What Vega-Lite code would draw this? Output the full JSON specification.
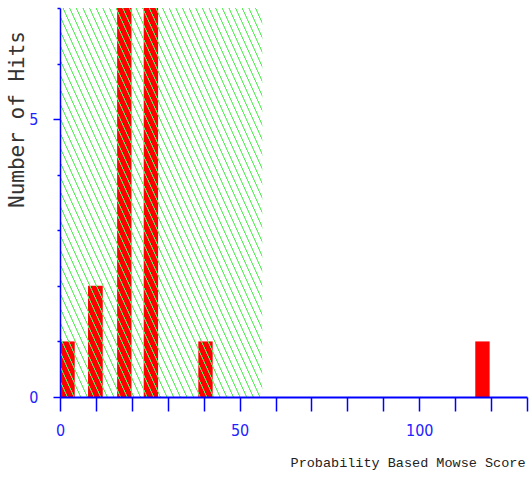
{
  "$schema": "https://vega.github.io/schema/vega-lite/v6.json",
  "width": 467,
  "height": 389,
  "autosize": {"type": "none"},
  "padding": {"left": 60, "top": 8, "right": 3, "bottom": 80},
  "background": "white",
  "config": {"view": {"stroke": null}},
  "encoding": {
    "x": {
      "field": "score_from", "type": "quantitative",
      "scale": {"domain": [0, 130], "nice": false, "zero": false},
      "title": "Probability Based Mowse Score",
      "axis": {
        "values": [0, 10, 20, 30, 40, 50, 60, 70, 80, 90, 100, 110, 120, 130],
        "labelExpr": "datum.value % 50 === 0 ? datum.label : ''",
        "grid": false,
        "domainColor": "#0000ff", "domainWidth": 2,
        "tickColor": "#0000ff", "tickWidth": 1.5, "tickSize": 14,
        "labelColor": "#2222ff", "labelFont": "DejaVu Sans Condensed, Liberation Sans Narrow, DejaVu Sans",
        "labelFontSize": 16, "labelPadding": 11, "labelFlush": false, "labelOverlap": false,
        "titleFont": "Liberation Mono, DejaVu Sans Mono", "titleFontSize": 13.5, "titleFontWeight": "normal",
        "titleColor": "#222222", "titleAnchor": "end", "titleAlign": "right", "titleX": 465, "titleY": 69,
        "titleBaseline": "alphabetic",
        "zindex": 1
      }
    },
    "x2": {"field": "score_to"},
    "y": {
      "field": "hits", "type": "quantitative",
      "scale": {"domain": [0, 7], "nice": false},
      "title": "Number of Hits",
      "axis": {
        "values": [0, 1, 2, 3, 4, 5, 6, 7],
        "format": "d",
        "labelExpr": "datum.value % 5 === 0 ? datum.label : ''",
        "grid": false,
        "domainColor": "#0000ff", "domainWidth": 1.5,
        "tickColor": "#0000ff", "tickWidth": 1.5,
        "tickSize": {"condition": {"test": "datum.value % 5 === 0", "value": 7}, "value": 3},
        "labelColor": "#2222ff", "labelFont": "DejaVu Sans Condensed, Liberation Sans Narrow, DejaVu Sans",
        "labelFontSize": 16, "labelPadding": 15, "labelOverlap": false, "labelFlush": false,
        "titleFont": "DejaVu Sans Mono", "titleFontSize": 21, "titleFontWeight": "normal",
        "titleColor": "#333333", "titleAngle": -90, "titleAlign": "center", "titleBaseline": "alphabetic",
        "titleX": -37, "titleY": 111,
        "zindex": 1
      }
    },
    "y2": {"datum": 0}
  },
  "layer": [
    {
      "data": {"values": [
        {"score_from": 0.2, "score_to": 4.1, "hits": 1},
        {"score_from": 7.8, "score_to": 11.9, "hits": 2},
        {"score_from": 15.9, "score_to": 19.9, "hits": 7},
        {"score_from": 23.3, "score_to": 27.3, "hits": 7},
        {"score_from": 38.5, "score_to": 42.5, "hits": 1},
        {"score_from": 115.6, "score_to": 119.6, "hits": 1}
      ]},
      "mark": {"type": "rect", "color": "#ff0000"}
    },
    {
      "data": {"values": [{"score_from": 0, "score_to": 56.3, "hits": 7}]},
      "mark": {
        "type": "rect",
        "fill": {
          "gradient": "linear", "x1": 0, "y1": 1, "x2": 1.0618, "y2": 0.0706,
          "stops": [
            {"offset": 0, "color": "rgba(92,240,92,0)"}, {"offset": 0.0012, "color": "#5cf05c"}, {"offset": 0.003, "color": "#5cf05c"}, {"offset": 0.0042, "color": "rgba(92,240,92,0)"},
            {"offset": 0.0175, "color": "rgba(92,240,92,0)"}, {"offset": 0.0187, "color": "#5cf05c"}, {"offset": 0.0205, "color": "#5cf05c"}, {"offset": 0.0217, "color": "rgba(92,240,92,0)"},
            {"offset": 0.035, "color": "rgba(92,240,92,0)"}, {"offset": 0.0362, "color": "#5cf05c"}, {"offset": 0.038, "color": "#5cf05c"}, {"offset": 0.0392, "color": "rgba(92,240,92,0)"},
            {"offset": 0.0525, "color": "rgba(92,240,92,0)"}, {"offset": 0.0537, "color": "#5cf05c"}, {"offset": 0.0555, "color": "#5cf05c"}, {"offset": 0.0567, "color": "rgba(92,240,92,0)"},
            {"offset": 0.07, "color": "rgba(92,240,92,0)"}, {"offset": 0.0712, "color": "#5cf05c"}, {"offset": 0.073, "color": "#5cf05c"}, {"offset": 0.0742, "color": "rgba(92,240,92,0)"},
            {"offset": 0.0875, "color": "rgba(92,240,92,0)"}, {"offset": 0.0887, "color": "#5cf05c"}, {"offset": 0.0905, "color": "#5cf05c"}, {"offset": 0.0917, "color": "rgba(92,240,92,0)"},
            {"offset": 0.105, "color": "rgba(92,240,92,0)"}, {"offset": 0.1062, "color": "#5cf05c"}, {"offset": 0.108, "color": "#5cf05c"}, {"offset": 0.1092, "color": "rgba(92,240,92,0)"},
            {"offset": 0.1225, "color": "rgba(92,240,92,0)"}, {"offset": 0.1237, "color": "#5cf05c"}, {"offset": 0.1255, "color": "#5cf05c"}, {"offset": 0.1267, "color": "rgba(92,240,92,0)"},
            {"offset": 0.14, "color": "rgba(92,240,92,0)"}, {"offset": 0.1412, "color": "#5cf05c"}, {"offset": 0.143, "color": "#5cf05c"}, {"offset": 0.1442, "color": "rgba(92,240,92,0)"},
            {"offset": 0.1575, "color": "rgba(92,240,92,0)"}, {"offset": 0.1587, "color": "#5cf05c"}, {"offset": 0.1605, "color": "#5cf05c"}, {"offset": 0.1617, "color": "rgba(92,240,92,0)"},
            {"offset": 0.175, "color": "rgba(92,240,92,0)"}, {"offset": 0.1762, "color": "#5cf05c"}, {"offset": 0.178, "color": "#5cf05c"}, {"offset": 0.1792, "color": "rgba(92,240,92,0)"},
            {"offset": 0.1925, "color": "rgba(92,240,92,0)"}, {"offset": 0.1937, "color": "#5cf05c"}, {"offset": 0.1955, "color": "#5cf05c"}, {"offset": 0.1967, "color": "rgba(92,240,92,0)"},
            {"offset": 0.21, "color": "rgba(92,240,92,0)"}, {"offset": 0.2112, "color": "#5cf05c"}, {"offset": 0.213, "color": "#5cf05c"}, {"offset": 0.2142, "color": "rgba(92,240,92,0)"},
            {"offset": 0.2275, "color": "rgba(92,240,92,0)"}, {"offset": 0.2287, "color": "#5cf05c"}, {"offset": 0.2305, "color": "#5cf05c"}, {"offset": 0.2317, "color": "rgba(92,240,92,0)"},
            {"offset": 0.245, "color": "rgba(92,240,92,0)"}, {"offset": 0.2462, "color": "#5cf05c"}, {"offset": 0.248, "color": "#5cf05c"}, {"offset": 0.2492, "color": "rgba(92,240,92,0)"},
            {"offset": 0.2625, "color": "rgba(92,240,92,0)"}, {"offset": 0.2637, "color": "#5cf05c"}, {"offset": 0.2655, "color": "#5cf05c"}, {"offset": 0.2667, "color": "rgba(92,240,92,0)"},
            {"offset": 0.28, "color": "rgba(92,240,92,0)"}, {"offset": 0.2812, "color": "#5cf05c"}, {"offset": 0.283, "color": "#5cf05c"}, {"offset": 0.2842, "color": "rgba(92,240,92,0)"},
            {"offset": 0.2975, "color": "rgba(92,240,92,0)"}, {"offset": 0.2987, "color": "#5cf05c"}, {"offset": 0.3005, "color": "#5cf05c"}, {"offset": 0.3017, "color": "rgba(92,240,92,0)"},
            {"offset": 0.315, "color": "rgba(92,240,92,0)"}, {"offset": 0.3162, "color": "#5cf05c"}, {"offset": 0.318, "color": "#5cf05c"}, {"offset": 0.3192, "color": "rgba(92,240,92,0)"},
            {"offset": 0.3325, "color": "rgba(92,240,92,0)"}, {"offset": 0.3337, "color": "#5cf05c"}, {"offset": 0.3355, "color": "#5cf05c"}, {"offset": 0.3367, "color": "rgba(92,240,92,0)"},
            {"offset": 0.35, "color": "rgba(92,240,92,0)"}, {"offset": 0.3512, "color": "#5cf05c"}, {"offset": 0.353, "color": "#5cf05c"}, {"offset": 0.3542, "color": "rgba(92,240,92,0)"},
            {"offset": 0.3675, "color": "rgba(92,240,92,0)"}, {"offset": 0.3687, "color": "#5cf05c"}, {"offset": 0.3705, "color": "#5cf05c"}, {"offset": 0.3717, "color": "rgba(92,240,92,0)"},
            {"offset": 0.385, "color": "rgba(92,240,92,0)"}, {"offset": 0.3862, "color": "#5cf05c"}, {"offset": 0.388, "color": "#5cf05c"}, {"offset": 0.3892, "color": "rgba(92,240,92,0)"},
            {"offset": 0.4025, "color": "rgba(92,240,92,0)"}, {"offset": 0.4037, "color": "#5cf05c"}, {"offset": 0.4055, "color": "#5cf05c"}, {"offset": 0.4067, "color": "rgba(92,240,92,0)"},
            {"offset": 0.42, "color": "rgba(92,240,92,0)"}, {"offset": 0.4212, "color": "#5cf05c"}, {"offset": 0.423, "color": "#5cf05c"}, {"offset": 0.4242, "color": "rgba(92,240,92,0)"},
            {"offset": 0.4375, "color": "rgba(92,240,92,0)"}, {"offset": 0.4387, "color": "#5cf05c"}, {"offset": 0.4405, "color": "#5cf05c"}, {"offset": 0.4417, "color": "rgba(92,240,92,0)"},
            {"offset": 0.455, "color": "rgba(92,240,92,0)"}, {"offset": 0.4562, "color": "#5cf05c"}, {"offset": 0.458, "color": "#5cf05c"}, {"offset": 0.4592, "color": "rgba(92,240,92,0)"},
            {"offset": 0.4725, "color": "rgba(92,240,92,0)"}, {"offset": 0.4737, "color": "#5cf05c"}, {"offset": 0.4755, "color": "#5cf05c"}, {"offset": 0.4767, "color": "rgba(92,240,92,0)"},
            {"offset": 0.49, "color": "rgba(92,240,92,0)"}, {"offset": 0.4912, "color": "#5cf05c"}, {"offset": 0.493, "color": "#5cf05c"}, {"offset": 0.4942, "color": "rgba(92,240,92,0)"},
            {"offset": 0.5075, "color": "rgba(92,240,92,0)"}, {"offset": 0.5087, "color": "#5cf05c"}, {"offset": 0.5105, "color": "#5cf05c"}, {"offset": 0.5117, "color": "rgba(92,240,92,0)"},
            {"offset": 0.525, "color": "rgba(92,240,92,0)"}, {"offset": 0.5262, "color": "#5cf05c"}, {"offset": 0.528, "color": "#5cf05c"}, {"offset": 0.5292, "color": "rgba(92,240,92,0)"},
            {"offset": 0.5425, "color": "rgba(92,240,92,0)"}, {"offset": 0.5437, "color": "#5cf05c"}, {"offset": 0.5455, "color": "#5cf05c"}, {"offset": 0.5467, "color": "rgba(92,240,92,0)"},
            {"offset": 0.56, "color": "rgba(92,240,92,0)"}, {"offset": 0.5612, "color": "#5cf05c"}, {"offset": 0.563, "color": "#5cf05c"}, {"offset": 0.5642, "color": "rgba(92,240,92,0)"},
            {"offset": 0.5775, "color": "rgba(92,240,92,0)"}, {"offset": 0.5787, "color": "#5cf05c"}, {"offset": 0.5805, "color": "#5cf05c"}, {"offset": 0.5817, "color": "rgba(92,240,92,0)"},
            {"offset": 0.595, "color": "rgba(92,240,92,0)"}, {"offset": 0.5962, "color": "#5cf05c"}, {"offset": 0.598, "color": "#5cf05c"}, {"offset": 0.5992, "color": "rgba(92,240,92,0)"},
            {"offset": 0.6125, "color": "rgba(92,240,92,0)"}, {"offset": 0.6137, "color": "#5cf05c"}, {"offset": 0.6155, "color": "#5cf05c"}, {"offset": 0.6167, "color": "rgba(92,240,92,0)"},
            {"offset": 0.63, "color": "rgba(92,240,92,0)"}, {"offset": 0.6312, "color": "#5cf05c"}, {"offset": 0.633, "color": "#5cf05c"}, {"offset": 0.6342, "color": "rgba(92,240,92,0)"},
            {"offset": 0.6475, "color": "rgba(92,240,92,0)"}, {"offset": 0.6487, "color": "#5cf05c"}, {"offset": 0.6505, "color": "#5cf05c"}, {"offset": 0.6517, "color": "rgba(92,240,92,0)"},
            {"offset": 0.665, "color": "rgba(92,240,92,0)"}, {"offset": 0.6662, "color": "#5cf05c"}, {"offset": 0.668, "color": "#5cf05c"}, {"offset": 0.6692, "color": "rgba(92,240,92,0)"},
            {"offset": 0.6825, "color": "rgba(92,240,92,0)"}, {"offset": 0.6837, "color": "#5cf05c"}, {"offset": 0.6855, "color": "#5cf05c"}, {"offset": 0.6867, "color": "rgba(92,240,92,0)"},
            {"offset": 0.7, "color": "rgba(92,240,92,0)"}, {"offset": 0.7012, "color": "#5cf05c"}, {"offset": 0.703, "color": "#5cf05c"}, {"offset": 0.7042, "color": "rgba(92,240,92,0)"},
            {"offset": 0.7175, "color": "rgba(92,240,92,0)"}, {"offset": 0.7187, "color": "#5cf05c"}, {"offset": 0.7205, "color": "#5cf05c"}, {"offset": 0.7217, "color": "rgba(92,240,92,0)"},
            {"offset": 0.735, "color": "rgba(92,240,92,0)"}, {"offset": 0.7362, "color": "#5cf05c"}, {"offset": 0.738, "color": "#5cf05c"}, {"offset": 0.7392, "color": "rgba(92,240,92,0)"},
            {"offset": 0.7525, "color": "rgba(92,240,92,0)"}, {"offset": 0.7537, "color": "#5cf05c"}, {"offset": 0.7555, "color": "#5cf05c"}, {"offset": 0.7567, "color": "rgba(92,240,92,0)"},
            {"offset": 0.77, "color": "rgba(92,240,92,0)"}, {"offset": 0.7712, "color": "#5cf05c"}, {"offset": 0.773, "color": "#5cf05c"}, {"offset": 0.7742, "color": "rgba(92,240,92,0)"},
            {"offset": 0.7875, "color": "rgba(92,240,92,0)"}, {"offset": 0.7887, "color": "#5cf05c"}, {"offset": 0.7905, "color": "#5cf05c"}, {"offset": 0.7917, "color": "rgba(92,240,92,0)"},
            {"offset": 0.805, "color": "rgba(92,240,92,0)"}, {"offset": 0.8062, "color": "#5cf05c"}, {"offset": 0.808, "color": "#5cf05c"}, {"offset": 0.8092, "color": "rgba(92,240,92,0)"},
            {"offset": 0.8225, "color": "rgba(92,240,92,0)"}, {"offset": 0.8237, "color": "#5cf05c"}, {"offset": 0.8255, "color": "#5cf05c"}, {"offset": 0.8267, "color": "rgba(92,240,92,0)"},
            {"offset": 0.84, "color": "rgba(92,240,92,0)"}, {"offset": 0.8412, "color": "#5cf05c"}, {"offset": 0.843, "color": "#5cf05c"}, {"offset": 0.8442, "color": "rgba(92,240,92,0)"},
            {"offset": 0.8575, "color": "rgba(92,240,92,0)"}, {"offset": 0.8587, "color": "#5cf05c"}, {"offset": 0.8605, "color": "#5cf05c"}, {"offset": 0.8617, "color": "rgba(92,240,92,0)"},
            {"offset": 0.875, "color": "rgba(92,240,92,0)"}, {"offset": 0.8762, "color": "#5cf05c"}, {"offset": 0.878, "color": "#5cf05c"}, {"offset": 0.8792, "color": "rgba(92,240,92,0)"},
            {"offset": 0.8925, "color": "rgba(92,240,92,0)"}, {"offset": 0.8937, "color": "#5cf05c"}, {"offset": 0.8955, "color": "#5cf05c"}, {"offset": 0.8967, "color": "rgba(92,240,92,0)"},
            {"offset": 0.91, "color": "rgba(92,240,92,0)"}, {"offset": 0.9112, "color": "#5cf05c"}, {"offset": 0.913, "color": "#5cf05c"}, {"offset": 0.9142, "color": "rgba(92,240,92,0)"},
            {"offset": 0.9275, "color": "rgba(92,240,92,0)"}, {"offset": 0.9287, "color": "#5cf05c"}, {"offset": 0.9305, "color": "#5cf05c"}, {"offset": 0.9317, "color": "rgba(92,240,92,0)"},
            {"offset": 0.945, "color": "rgba(92,240,92,0)"}, {"offset": 0.9462, "color": "#5cf05c"}, {"offset": 0.948, "color": "#5cf05c"}, {"offset": 0.9492, "color": "rgba(92,240,92,0)"},
            {"offset": 0.9625, "color": "rgba(92,240,92,0)"}, {"offset": 0.9637, "color": "#5cf05c"}, {"offset": 0.9655, "color": "#5cf05c"}, {"offset": 0.9667, "color": "rgba(92,240,92,0)"},
            {"offset": 0.98, "color": "rgba(92,240,92,0)"}, {"offset": 0.9812, "color": "#5cf05c"}, {"offset": 0.983, "color": "#5cf05c"}, {"offset": 0.9842, "color": "rgba(92,240,92,0)"},
            {"offset": 1, "color": "rgba(92,240,92,0)"}
          ]
        }
      }
    }
  ]
}
